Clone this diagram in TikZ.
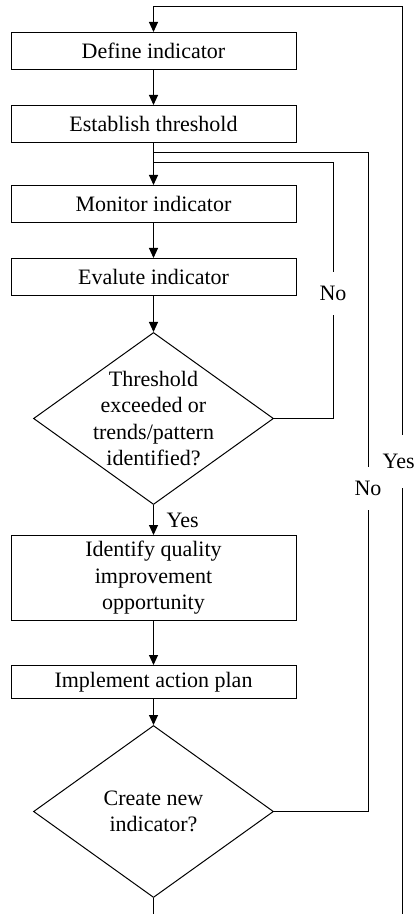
\documentclass[tikz,border=0pt]{standalone}
\usepackage{fontspec}
\setmainfont{Liberation Serif}
\usetikzlibrary{positioning,shapes.geometric,arrows.meta}
\tikzset{
  stepbox/.style={draw, line width=0.5pt, minimum width=142.5pt, minimum height=18.5pt, inner sep=1pt, align=center},
  decision/.style={draw, diamond, line width=0.5pt, minimum width=120pt, minimum height=86pt, inner sep=0pt},
  flow/.style={line width=0.5pt, -{Triangle[width=4.5pt,length=5pt]}},
  wire/.style={line width=0.5pt},
  gap/.style={inner sep=0pt, minimum height=21.5pt},
}

\begin{document}
\begin{tikzpicture}[font=\fontsize{11}{13.3}\selectfont]
    \useasboundingbox (0,0) rectangle (208pt,-457pt);
    \node[stepbox] (def) at (76.75pt,-25.5pt) {Define indicator};
    \node[stepbox, below=17.5pt of def] (est) {Establish threshold};
    \node[stepbox, below=21pt of est] (mon) {Monitor indicator};
    \node[stepbox, below=17.5pt of mon] (evl) {Evalute indicator};
    \node[decision, below=18pt of evl, label={[align=center]center:Threshold\\exceeded or\\trends/pattern\\identified?}] (chk) {};
    \node[stepbox, below=15pt of chk, minimum height=42.5pt] (idq) {Identify quality\\improvement\\opportunity};
    \node[stepbox, below=22pt of idq, minimum height=16.5pt] (imp) {Implement action plan};
    \node[decision, below=13pt of imp, label={[align=center]center:Create new\\indicator?}] (newi) {};
    % joints and corners
    \coordinate (bot) at (0,-457pt);
    \coordinate [below=5pt of est.south] (j1);
    \coordinate [below=10pt of est.south] (j2);
    \coordinate [above=12.5pt of def.north] (t0);
    \coordinate [right=124.25pt of t0] (t1);
    \coordinate (b1) at (t1 |- bot);
    \coordinate (b0) at (newi.south |- bot);
    % answers on the loops
    \node[gap] (no1) at (166.5pt,-146.75pt) {No};
    \node[gap] (no2) at (184pt,-244.25pt) {No};
    \node[gap, minimum height=26.5pt, anchor=east] (yes) at (207.5pt,-230.75pt) {Yes};

    \draw[flow] (def) -- (est);
    \draw[flow] (est) -- (mon);
    \draw[flow] (mon) -- (evl);
    \draw[flow] (evl) -- (chk);
    \draw[flow] (chk) -- node[right=3pt] (yes1) {Yes} (idq);
    \draw[flow] (idq) -- (imp);
    \draw[flow] (imp) -- (newi);
    % back to monitoring
    \draw[wire] (chk.east) -| (no1.south);
    \draw[wire] (no1.north) |- (j2);
    % back to threshold
    \draw[wire] (newi.east) -| (no2.south);
    \draw[wire] (no2.north) |- (j1);
    % new indicator
    \draw[wire] (newi.south) -- (b0);
    \draw[wire] (b1) -- (yes.south -| b1);
    \draw[flow] (yes.north -| b1) -- (t1) -- (t0) -- (def.north);
\end{tikzpicture}
\end{document}
